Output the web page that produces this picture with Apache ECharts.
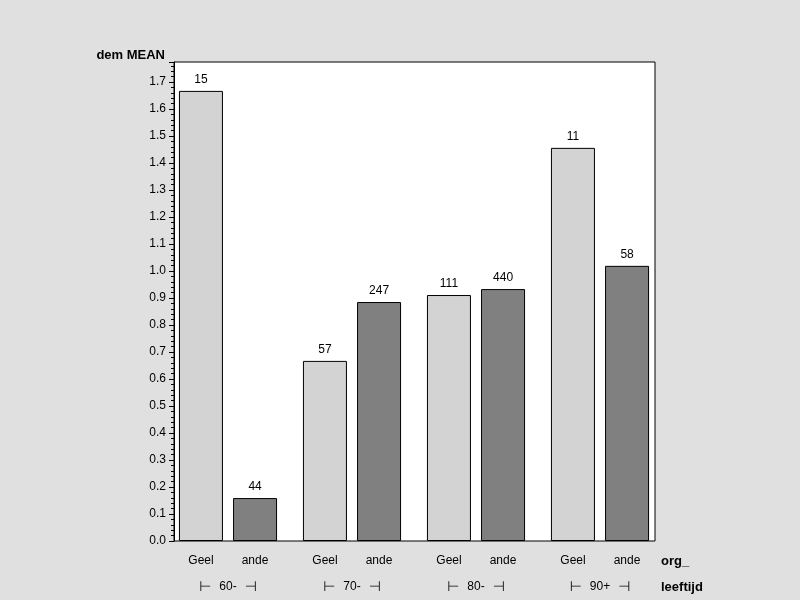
<!DOCTYPE html>
<html><head><meta charset="utf-8">
<script src="https://cdn.jsdelivr.net/npm/echarts@6/dist/echarts.min.js"></script>
<style>html,body{margin:0;padding:0;background:#e0e0e0}#c{width:800px;height:600px}</style>
</head><body><div id="c"></div>
<script>
var groups = ['60-', '70-', '80-', '90+'];
var subLabels = ['Geel', 'ande'];
var geelMean = [1.667, 0.667, 0.911, 1.456];
var andeMean = [0.159, 0.885, 0.933, 1.019];
var geelCount = [15, 57, 111, 11];
var andeCount = [44, 247, 440, 58];
var yTitle = 'dem MEAN';
var xTitle1 = 'org_';
var xTitle2 = 'leeftijd';

var FONT = 'Liberation Sans, Arial, sans-serif';
var chart = echarts.init(document.getElementById('c'));
var yMax = 1.774;
function mkSeries(name, vals, counts, color) {
  return {
    name: name, type: 'bar', xAxisIndex: 1, yAxisIndex: 1,
    barWidth: 44, barGap: '23%',
    itemStyle: { color: color, borderColor: '#000', borderWidth: 1 },
    label: { show: true, position: 'top', distance: 5, color: '#000', fontFamily: FONT, fontSize: 12,
      formatter: function (p) { return String(counts[p.dataIndex]); } },
    data: vals
  };
}
chart.setOption({
  backgroundColor: '#e0e0e0',
  animation: false,
  grid: [
    { left: 174, top: 62, width: 481, height: 479, show: true, backgroundColor: '#fff', borderColor: '#000', borderWidth: 1, z: 0, outerBoundsMode: 'none', containLabel: false },
    { left: 166, top: 62, width: 496, height: 479, outerBoundsMode: 'none', containLabel: false }
  ],
  xAxis: [
    { type: 'category', gridIndex: 0, data: groups, show: false },
    { type: 'category', gridIndex: 1, data: groups,
      axisLine: { show: false }, axisTick: { show: false },
      axisLabel: {
        margin: 7, interval: 0, fontFamily: FONT, color: '#000', lineHeight: 26,
        formatter: function (v) {
          return '{a|' + subLabels[0] + '}{b|' + subLabels[1] + '}\n{l|⊢}{t|' + v + '}{r|⊣}';
        },
        rich: {
          a: { width: 54, align: 'center', fontSize: 12, fontFamily: FONT, color: '#000', lineHeight: 26 },
          b: { width: 54, align: 'center', fontSize: 12, fontFamily: FONT, color: '#000', lineHeight: 26 },
          l: { align: 'center', padding: [0, 8, 0, 0], fontSize: 14, fontFamily: 'DejaVu Sans', color: '#000', lineHeight: 26 },
          t: { align: 'center', fontSize: 12, fontFamily: FONT, color: '#000', lineHeight: 26 },
          r: { align: 'center', padding: [0, 0, 0, 8], fontSize: 14, fontFamily: 'DejaVu Sans', color: '#000', lineHeight: 26 }
        }
      }
    }
  ],
  yAxis: [
    { type: 'value', gridIndex: 0, min: 0, max: yMax, interval: 0.1,
      name: yTitle, nameLocation: 'end', nameGap: 7,
      nameTextStyle: { fontFamily: FONT, fontWeight: 'bold', fontSize: 13, color: '#000', align: 'right', verticalAlign: 'middle', padding: [0, 9, 0, 0] },
      axisLine: { show: true, lineStyle: { color: '#000' } },
      axisTick: { show: true, length: 5, lineStyle: { color: '#000' } },
      minorTick: { show: true, splitNumber: 5, length: 3, lineStyle: { color: '#000' } },
      splitLine: { show: false },
      axisLabel: { showMaxLabel: false, margin: 8, fontFamily: FONT, fontSize: 12, color: '#000',
        formatter: function (v) { return v.toFixed(1); } }
    },
    { type: 'value', gridIndex: 1, min: 0, max: yMax, show: false, splitLine: { show: false } }
  ],
  graphic: [
    { type: 'text', left: 661, top: 555, style: { text: xTitle1, font: 'bold 13px ' + FONT, fill: '#000' } },
    { type: 'text', left: 661, top: 581, style: { text: xTitle2, font: 'bold 13px ' + FONT, fill: '#000' } }
  ],
  series: [
    mkSeries('Geel', geelMean, geelCount, '#d3d3d3'),
    mkSeries('ande', andeMean, andeCount, '#808080')
  ]
});
</script></body></html>
